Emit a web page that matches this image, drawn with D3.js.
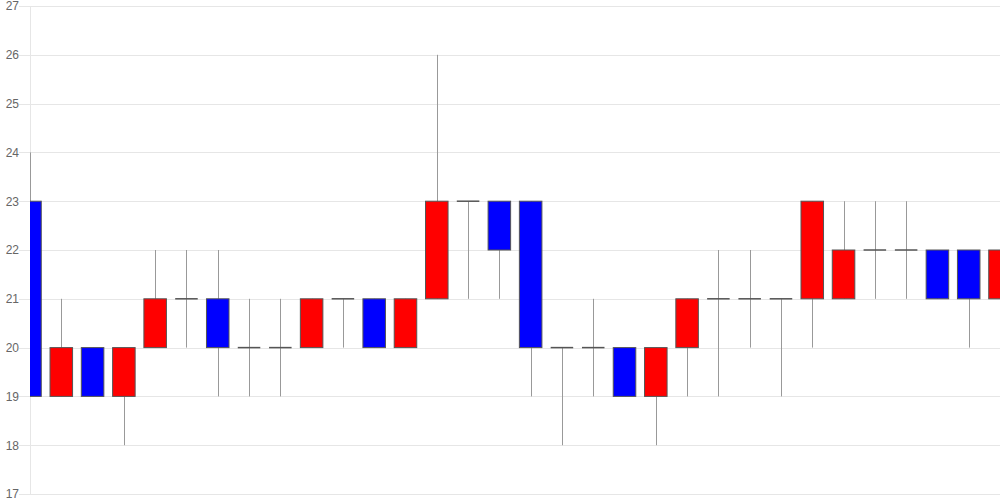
<!DOCTYPE html>
<html>
<head>
<meta charset="utf-8">
<script src="https://cdn.jsdelivr.net/npm/d3@7"></script>
<style>
html,body{margin:0;padding:0;background:#fff;}
svg{display:block;font-family:"Liberation Sans",Arial,sans-serif;}
</style>
</head>
<body>
<svg id="chart" width="1000" height="500"></svg>
<script>
const opens  = [23,19,20,19,20,21,21,20,20,20,21,21,20,21,23,23,23,20,20,20,19,20,21,21,21,21,21,22,22,22,22,21];
const closes = [19,20,19,20,21,21,20,20,20,21,21,20,21,23,23,22,20,20,20,19,20,21,21,21,21,23,22,22,22,21,21,22];
const highs  = [24,21,20,20,22,22,22,21,21,21,21,21,21,26,23,23,23,20,21,20,20,21,22,22,21,23,23,23,23,22,22,22];
const lows   = [19,19,19,18,20,20,19,19,19,20,20,20,20,21,21,21,19,18,19,19,18,19,19,20,19,20,21,21,21,21,20,20];
const yTicks = [17,18,19,20,21,22,23,24,25,26,27];

(function () {
const svg = d3.select("#chart");
const pLeft = 30, pRight = 1000, pTop = 6, pBottom = 494;
const idx = d3.range(opens.length);
const x = d3.scalePoint().domain(idx).range([pLeft, pRight]);
const y = d3.scaleLinear().domain([17, 27]).range([pBottom, pTop]);
const bw = x.step() * 0.72;

// grid
svg.append("g").selectAll("line").data(yTicks).join("line")
  .attr("x1", 19).attr("x2", pRight)
  .attr("y1", d => Math.round(y(d)) + 0.5).attr("y2", d => Math.round(y(d)) + 0.5)
  .attr("stroke", "#e6e6e6").attr("stroke-width", 1);

// axis labels
const yAxis = d3.axisLeft(y).tickValues(yTicks).tickSize(0).tickPadding(0);
const ga = svg.append("g").attr("transform", "translate(19,0)").call(yAxis);
ga.select(".domain").remove();
ga.selectAll("text").attr("fill", "#666").attr("font-size", "12px")
  .attr("font-family", "'Liberation Sans',Arial,sans-serif");

// y axis line
svg.append("line").attr("x1", pLeft + 0.5).attr("x2", pLeft + 0.5)
  .attr("y1", pTop).attr("y2", pBottom + 1).attr("stroke", "#e6e6e6");

svg.append("clipPath").attr("id", "clip").append("rect")
  .attr("x", pLeft).attr("y", 0).attr("width", pRight - pLeft).attr("height", 500);

const g = svg.append("g").attr("clip-path", "url(#clip)");
const data = idx.map(i => ({i, o: opens[i], c: closes[i], h: highs[i], l: lows[i]}));

// wicks
g.selectAll("line.wick").data(data).join("line").attr("class", "wick")
  .attr("x1", d => Math.round(x(d.i)) + 0.5).attr("x2", d => Math.round(x(d.i)) + 0.5)
  .attr("y1", d => y(d.h)).attr("y2", d => y(d.l))
  .attr("stroke", "#999").attr("stroke-width", 1);

// bodies
const bodies = data.filter(d => d.o !== d.c);
g.selectAll("rect.body").data(bodies).join("rect").attr("class", "body")
  .attr("x", d => x(d.i) - bw / 2)
  .attr("y", d => y(Math.max(d.o, d.c)))
  .attr("width", bw)
  .attr("height", d => y(Math.min(d.o, d.c)) - y(Math.max(d.o, d.c)))
  .attr("fill", d => d.c > d.o ? "#ff0000" : "#0000ff")
  .attr("stroke", "#555").attr("stroke-width", 1);

// doji lines
const dojis = data.filter(d => d.o === d.c);
g.selectAll("line.doji").data(dojis).join("line").attr("class", "doji")
  .attr("x1", d => x(d.i) - bw / 2).attr("x2", d => x(d.i) + bw / 2)
  .attr("y1", d => y(d.o)).attr("y2", d => y(d.o))
  .attr("stroke", "#555").attr("stroke-width", 1.5);
})();
</script>
</body>
</html>
